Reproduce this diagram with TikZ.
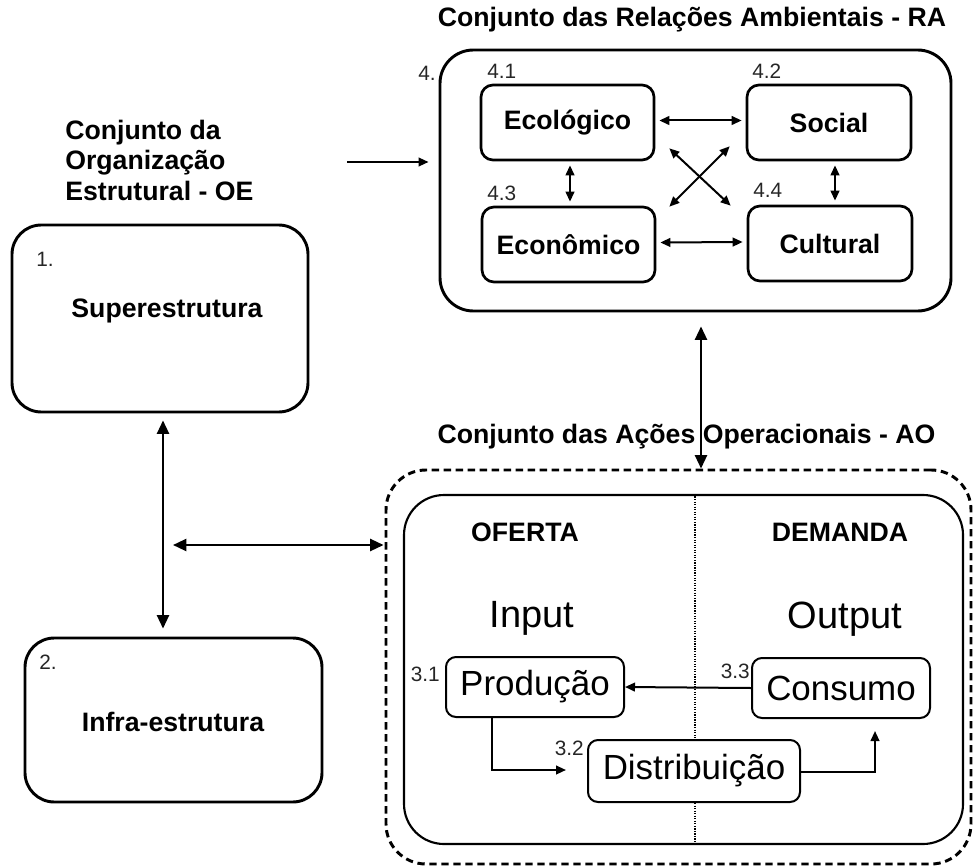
\documentclass[tikz,border=0pt]{standalone}
\usepackage{fontspec}
\setmainfont{Liberation Sans}
\usetikzlibrary{arrows.meta,calc}
\begin{document}
\begin{tikzpicture}[x=0.75pt,y=-0.75pt,
  sz/.style 2 args={minimum width=#1*0.75pt,minimum height=#2*0.75pt,inner sep=0pt},
  bigbox/.style={draw,line width=2.2pt,rounded corners=22pt},
  subbox/.style={draw,line width=2pt,rounded corners=9pt,fill=white,
    font=\bfseries\fontsize{20}{24}\selectfont},
  flowbox/.style={draw,line width=1.5pt,rounded corners=7.5pt,fill=white,
    font=\fontsize{26.2}{30}\selectfont},
  num/.style={text=black!85,font=\fontsize{15.6}{18}\selectfont,inner sep=0pt},
  ttl/.style={font=\bfseries\fontsize{20}{22.5}\selectfont,inner sep=0pt},
  big/.style={font=\fontsize{28.5}{32}\selectfont,inner sep=0pt},
  arr/.style={line width=1.5pt,-{Triangle[length=7.5pt,width=6.5pt]}},
  darr/.style={line width=1.5pt,{Triangle[length=7.5pt,width=6.5pt]}-{Triangle[length=7.5pt,width=6.5pt]}},
  bigdarr/.style={line width=1.6pt,{Triangle[length=10pt,width=9pt]}-{Triangle[length=10pt,width=9pt]}}]
\useasboundingbox (0,0) rectangle (973,866);

% ---- titles ----
\node[ttl,anchor=base] (tRA) at (692,27) {Conjunto das Relações Ambientais - RA};
\node[ttl,anchor=base] (tAO) at (686.5,443) {Conjunto das Ações Operacionais - AO};
\node[ttl,anchor=base west] (tOE1) at (65,140) {Conjunto da};
\node[ttl,anchor=base west] (tOE2) at (65,170) {Organização};
\node[ttl,anchor=base west] (tOE3) at (65,200) {Estrutural - OE};

% ---- structural organisation ----
\node[bigbox,sz={296}{187}] (sup) at (160,318.5) {};
\node[bigbox,sz={297}{164}] (inf) at (173.5,720) {};
\node[num,anchor=base west] (n1) at (36,266) {1.};
\node[num,anchor=base west] (n2) at (39,669) {2.};
\node[ttl,anchor=base] (tSup) at (167,317) {Superestrutura};
\node[ttl,anchor=base] (tInf) at (173,731) {Infra-estrutura};

% ---- environmental relations ----
\node[bigbox,rounded corners=25pt,sz={511}{261}] (ra) at (695.5,180.5) {};
\node[num,anchor=base east] (n4) at (436,81) {4.};
\node[subbox,sz={173}{75}] (eco) at (567.5,122.5) {Ecológico};
\node[subbox,sz={173}{75}] (econ) at (568.5,244.5) {Econômico};
\node[subbox,sz={164}{75}] (soc) at (829,122.5) {Social};
\node[subbox,sz={164}{75}] (cul) at (830,243.5) {Cultural};
\node[num,anchor=base west] (n41) at (487,79) {4.1};
\node[num,anchor=base west] (n42) at (752,79) {4.2};
\node[num,anchor=base west] (n43) at (487,201) {4.3};
\node[num,anchor=base west] (n44) at (753,198) {4.4};

\draw[darr] ($(eco.east)+(4,-2)$) -- ($(soc.west)+(-4,-2)$);
\draw[darr] ($(econ.east)+(4,-2)$) -- ($(cul.west)+(-4,-1.5)$);
\draw[darr] ($(eco.south)+(2.5,4)$) -- ($(econ.north)+(1.5,-4)$);
\draw[darr] ($(soc.south)+(6,4)$) -- ($(cul.north)+(5,-4)$);
\draw[darr] ($(eco.south east)+(14,-13)$) -- ($(cul.north west)+(-16,1)$);
\draw[darr] ($(econ.north east)+(13,1)$) -- ($(soc.south west)+(-16,-15)$);

\coordinate (oeIn) at (347,162);
\draw[arr] (oeIn) -- ($(ra.west)+(-10,-18.5)$);

% ---- operational actions ----
\node[draw,line width=2.2pt,dash pattern=on 5.5pt off 3.5pt,rounded corners=30pt,
  sz={585}{394}] (aoD) at (678.5,667) {};
\node[draw,line width=1.6pt,rounded corners=30pt,sz={559}{349}] (aoI) at (683.5,669.5) {};
\draw[line width=0.9pt,densely dotted] ($(aoI.north)+(11.5,0)$) -- ($(aoI.south)+(11.5,0)$);

\node[ttl,anchor=base] (tOf) at (525,541) {OFERTA};
\node[ttl,anchor=base] (tDe) at (840,541) {DEMANDA};
\node[big,anchor=base] (tIn) at (532,627) {Input};
\node[big,anchor=base] (tOut) at (845,628) {Output};

\node[flowbox,sz={178}{60}] (prod) at (535,687) {Produção};
\node[flowbox,sz={178}{60}] (cons) at (841,688) {Consumo};
\node[flowbox,sz={212}{62}] (dist) at (694,771) {Distribuição};
\node[num,anchor=base east] (n31) at (440,681) {3.1};
\node[num,anchor=base east] (n33) at (750,678) {3.3};
\node[num,anchor=base east] (n32) at (584,755) {3.2};

\draw[arr] (cons.west) -- (prod.east);
\draw[arr] ($(prod.south)+(-43,0)$) |- ($(dist.west)+(-21,-1)$);
\draw[arr] ($(dist.east)+(0,1)$) -| ($(cons.south)+(34,12)$);

% ---- links between the three sets ----
\draw[bigdarr] ($(ra.south)+(5.5,14)$) -- ($(aoD.north)+(22.5,0)$);
\draw[bigdarr] ($(sup.south)+(3,7)$) -- ($(inf.north)+(-10.5,-8)$);
\coordinate (hl) at (173,545);
\draw[bigdarr] (hl) -- ($(aoD.west)+(-1,-122)$);
\end{tikzpicture}
\end{document}
